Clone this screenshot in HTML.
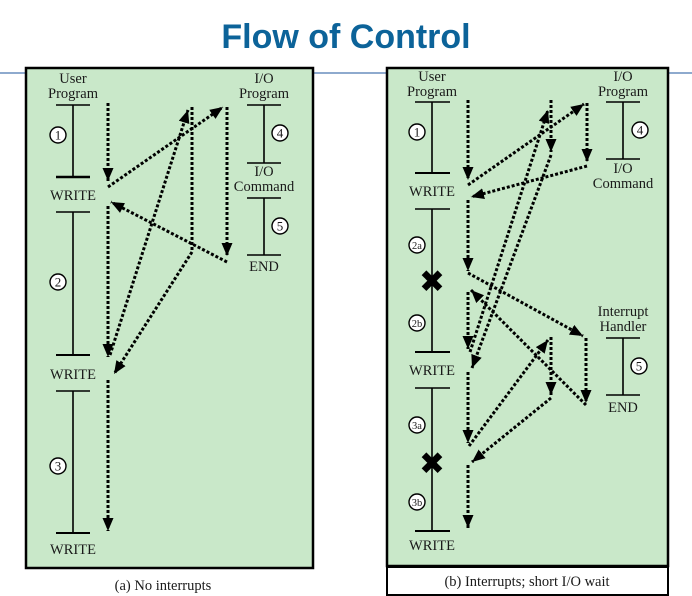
<!DOCTYPE html>
<html><head><meta charset="utf-8">
<style>
html,body{margin:0;padding:0;background:#fff;}
svg{display:block;}
text{font-family:"Liberation Serif",serif;fill:#1a1a1a;}
.t{font-size:14.5px;text-anchor:middle;}
.n{font-size:13px;text-anchor:middle;}
.d{stroke:#000;stroke-width:3;stroke-dasharray:3 2;fill:none;}
.tl{stroke:#000;stroke-width:1.6;}
.c{fill:#fff;stroke:#000;stroke-width:1.4;}
</style></head><body>
<svg width="692" height="596" viewBox="0 0 692 596" xmlns="http://www.w3.org/2000/svg">
<defs>
<marker id="a" markerUnits="userSpaceOnUse" markerWidth="14" markerHeight="14" viewBox="0 0 14 14" refX="13" refY="7" orient="auto">
<path d="M0,1.5 L13,7 L0,12.5 Z" fill="#000" stroke="none"/>
</marker>
</defs>
<text x="346" y="48" style="font-family:'Liberation Sans',sans-serif;font-weight:bold;font-size:34px;fill:#0c6399;text-anchor:middle">Flow of Control</text>
<line x1="0" y1="73" x2="692" y2="73" stroke="#4a78b0" stroke-width="1.2"/>

<!-- Left panel -->
<rect x="26" y="68" width="287" height="500" fill="#c9e8c9" stroke="#000" stroke-width="2.5"/>
<text class="t" x="163" y="590">(a) No interrupts</text>

<text class="t" x="73" y="83">User</text>
<text class="t" x="73" y="98">Program</text>
<line class="tl" x1="56" y1="105" x2="90" y2="105"/>
<line class="tl" x1="73" y1="105" x2="73" y2="177"/>
<line x1="56" y1="177" x2="90" y2="177" stroke="#000" stroke-width="2.5"/>
<circle class="c" cx="58" cy="135" r="8"/><text class="n" x="58" y="139.5">1</text>
<text class="t" x="73" y="200">WRITE</text>
<line class="tl" x1="56" y1="212" x2="90" y2="212"/>
<line class="tl" x1="73" y1="212" x2="73" y2="355"/>
<line x1="56" y1="355" x2="90" y2="355" stroke="#000" stroke-width="2"/>
<circle class="c" cx="58" cy="282" r="8"/><text class="n" x="58" y="286.5">2</text>
<text class="t" x="73" y="379">WRITE</text>
<line class="tl" x1="56" y1="391" x2="90" y2="391"/>
<line class="tl" x1="73" y1="391" x2="73" y2="533"/>
<line x1="56" y1="533" x2="90" y2="533" stroke="#000" stroke-width="2"/>
<circle class="c" cx="58" cy="466" r="8"/><text class="n" x="58" y="470.5">3</text>
<text class="t" x="73" y="554">WRITE</text>

<text class="t" x="264" y="83">I/O</text>
<text class="t" x="264" y="98">Program</text>
<line class="tl" x1="247" y1="105" x2="281" y2="105"/>
<line class="tl" x1="264" y1="105" x2="264" y2="163"/>
<line class="tl" x1="247" y1="163" x2="281" y2="163"/>
<circle class="c" cx="280" cy="133" r="8"/><text class="n" x="280" y="137.5">4</text>
<text class="t" x="264" y="176">I/O</text>
<text class="t" x="264" y="191">Command</text>
<line class="tl" x1="247" y1="198" x2="281" y2="198"/>
<line class="tl" x1="264" y1="198" x2="264" y2="255"/>
<line class="tl" x1="247" y1="255" x2="281" y2="255"/>
<circle class="c" cx="280" cy="226" r="8"/><text class="n" x="280" y="230.5">5</text>
<text class="t" x="264" y="271">END</text>

<path class="d" d="M108,103 L108,181" marker-end="url(#a)"/>
<path class="d" d="M108,187 L223,107" marker-end="url(#a)"/>
<path class="d" d="M227,107 L227,256" marker-end="url(#a)"/>
<path class="d" d="M227,262 L111,202" marker-end="url(#a)"/>
<path class="d" d="M108,206 L108,357" marker-end="url(#a)"/>
<path class="d" d="M110,355 L188,110" marker-end="url(#a)"/>
<path class="d" d="M192,107 L192,252 L114,374" marker-end="url(#a)"/>
<path class="d" d="M108,380 L108,531" marker-end="url(#a)"/>

<!-- Right panel -->
<rect x="387" y="68" width="281" height="498" fill="#c9e8c9" stroke="#000" stroke-width="2.5"/>
<rect x="387" y="567" width="281" height="28" fill="#fff" stroke="#000" stroke-width="2"/>
<text class="t" x="527" y="586">(b) Interrupts; short I/O wait</text>

<text class="t" x="432" y="81">User</text>
<text class="t" x="432" y="96">Program</text>
<line class="tl" x1="415" y1="102" x2="450" y2="102"/>
<line class="tl" x1="432" y1="102" x2="432" y2="173"/>
<line x1="415" y1="173" x2="450" y2="173" stroke="#000" stroke-width="2"/>
<circle class="c" cx="417" cy="132" r="8"/><text class="n" x="417" y="136.5">1</text>
<text class="t" x="432" y="196">WRITE</text>
<line class="tl" x1="415" y1="209" x2="450" y2="209"/>
<line class="tl" x1="432" y1="209" x2="432" y2="352"/>
<line x1="415" y1="352" x2="450" y2="352" stroke="#000" stroke-width="2"/>
<circle class="c" cx="417" cy="245" r="8"/><text class="n" x="417" y="249" style="font-size:10.5px">2a</text>
<circle class="c" cx="417" cy="323" r="8"/><text class="n" x="417" y="327" style="font-size:10.5px">2b</text>
<text x="432" y="292" style="font-family:'DejaVu Sans',sans-serif;font-size:31px;font-weight:bold;text-anchor:middle;fill:#000">✖</text>
<text class="t" x="432" y="375">WRITE</text>
<line class="tl" x1="415" y1="388" x2="450" y2="388"/>
<line class="tl" x1="432" y1="388" x2="432" y2="531"/>
<line x1="415" y1="531" x2="450" y2="531" stroke="#000" stroke-width="2"/>
<circle class="c" cx="417" cy="425" r="8"/><text class="n" x="417" y="429" style="font-size:10.5px">3a</text>
<circle class="c" cx="417" cy="502" r="8"/><text class="n" x="417" y="506" style="font-size:10.5px">3b</text>
<text x="432" y="474" style="font-family:'DejaVu Sans',sans-serif;font-size:31px;font-weight:bold;text-anchor:middle;fill:#000">✖</text>
<text class="t" x="432" y="550">WRITE</text>

<text class="t" x="623" y="81">I/O</text>
<text class="t" x="623" y="96">Program</text>
<line class="tl" x1="606" y1="102" x2="640" y2="102"/>
<line class="tl" x1="623" y1="102" x2="623" y2="159"/>
<line class="tl" x1="606" y1="159" x2="640" y2="159"/>
<circle class="c" cx="640" cy="130" r="8"/><text class="n" x="640" y="134.5">4</text>
<text class="t" x="623" y="173">I/O</text>
<text class="t" x="623" y="188">Command</text>

<text class="t" x="623" y="316">Interrupt</text>
<text class="t" x="623" y="331">Handler</text>
<line class="tl" x1="606" y1="338" x2="640" y2="338"/>
<line class="tl" x1="623" y1="338" x2="623" y2="395"/>
<line class="tl" x1="606" y1="395" x2="640" y2="395"/>
<circle class="c" cx="639" cy="366" r="8"/><text class="n" x="639" y="370.5">5</text>
<text class="t" x="623" y="412">END</text>

<path class="d" d="M468,100 L468,180" marker-end="url(#a)"/>
<path class="d" d="M468,185 L584,104" marker-end="url(#a)"/>
<path class="d" d="M587,103 L587,162" marker-end="url(#a)"/>
<path class="d" d="M587,166 L471,197" marker-end="url(#a)"/>
<path class="d" d="M468,200 L468,271" marker-end="url(#a)"/>
<path class="d" d="M468,273 L583,336" marker-end="url(#a)"/>
<path class="d" d="M586,338 L586,403" marker-end="url(#a)"/>
<path class="d" d="M586,405 L471,290" marker-end="url(#a)"/>
<path class="d" d="M468,292 L468,349" marker-end="url(#a)"/>
<path class="d" d="M470,352 L548,110" marker-end="url(#a)"/>
<path class="d" d="M551,100 L551,152" marker-end="url(#a)"/>
<path class="d" d="M551,155 L472,368" marker-end="url(#a)"/>
<path class="d" d="M468,372 L468,443" marker-end="url(#a)"/>
<path class="d" d="M469,446 L548,340" marker-end="url(#a)"/>
<path class="d" d="M551,337 L551,395" marker-end="url(#a)"/>
<path class="d" d="M551,398 L472,462" marker-end="url(#a)"/>
<path class="d" d="M468,465 L468,528" marker-end="url(#a)"/>
</svg>
</body></html>
